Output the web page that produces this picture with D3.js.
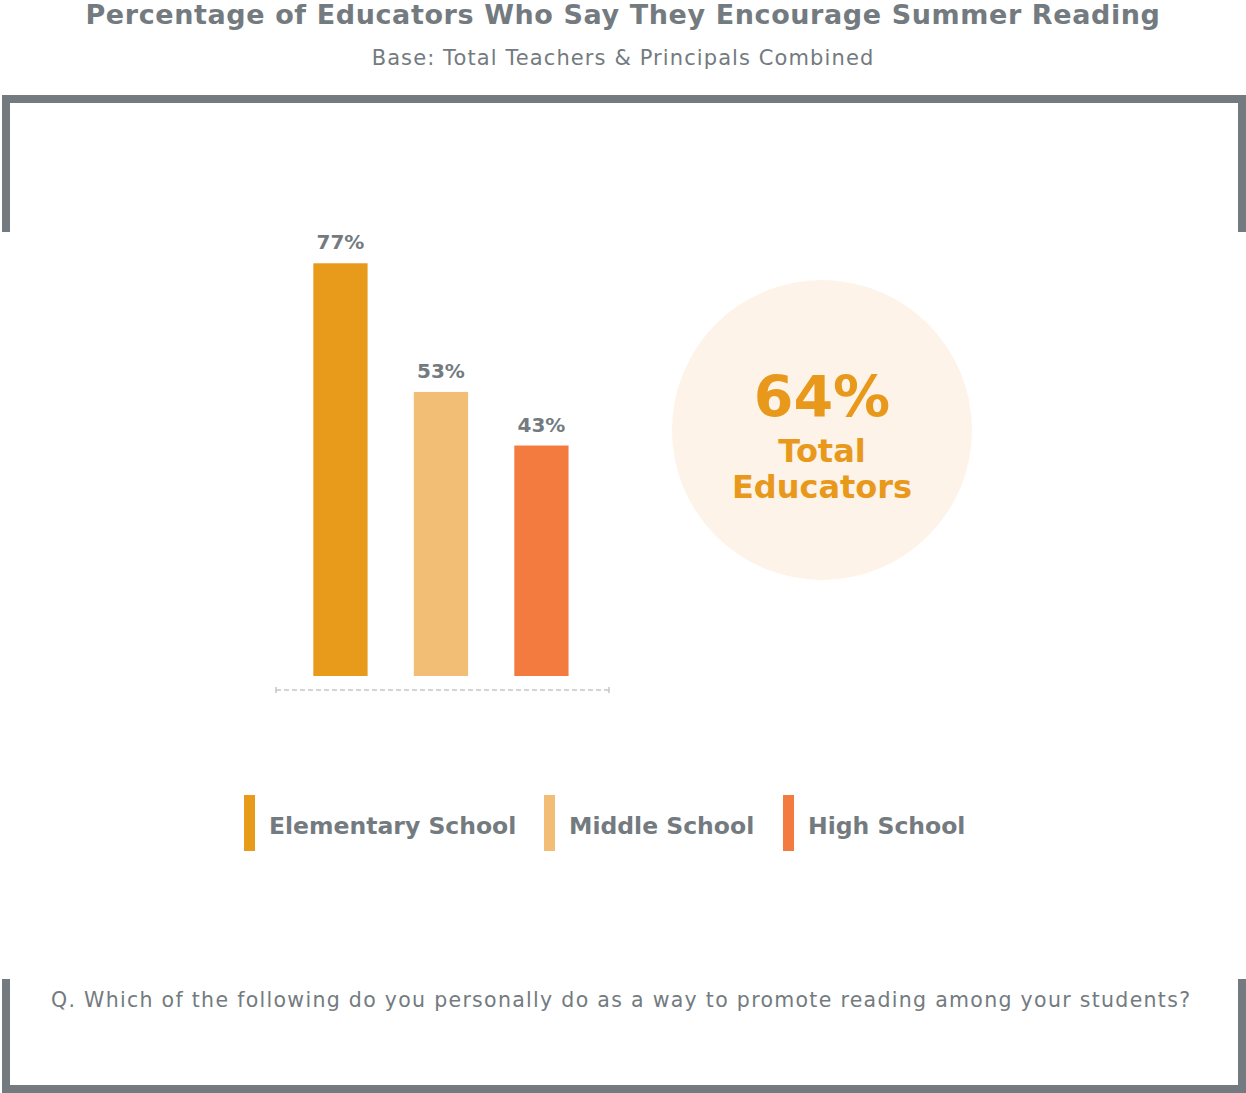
<!DOCTYPE html>
<html>
<head>
<meta charset="utf-8">
<script src="https://cdn.jsdelivr.net/npm/d3@7"></script>
<style>
  body { margin: 0; background: #fff; }
  svg { display: block; font-family: "DejaVu Sans", sans-serif; }
</style>
</head>
<body>
<svg></svg>
<script>
const width = 1246;
const height = 1093;

const categories = ['Elementary School', 'Middle School', 'High School'];
const values = [77, 53, 43];
const totalValue = 64;
const titleText = 'Percentage of Educators Who Say They Encourage Summer Reading';
const subtitleText = 'Base: Total Teachers & Principals Combined';
const questionText = 'Q. Which of the following do you personally do as a way to promote reading among your students?';

const gray = '#737b80';

const svg = d3.select('svg')
	.attr('width', width)
	.attr('height', height);

const colorScale = d3.scaleOrdinal()
	.domain(categories)
	.range(['#e89a1a', '#f2be75', '#f47b40']);

const x = d3.scaleBand()
	.domain(categories)
	.range([276, 609])
	.paddingInner(0.46)
	.paddingOuter(0.387)
	.align(0.48);

const y = d3.scaleLinear()
	.domain([0, 100])
	.range([676, 140]);

// title
svg.append('text')
	.attr('x', 623)
	.attr('y', 24)
	.attr('text-anchor', 'middle')
	.attr('font-size', 27)
	.attr('font-weight', 700)
	.attr('letter-spacing', 0.6)
	.attr('fill', gray)
	.text(titleText);

svg.append('text')
	.attr('x', 623)
	.attr('y', 65)
	.attr('text-anchor', 'middle')
	.attr('font-size', 21)
	.attr('letter-spacing', 1.1)
	.attr('fill', gray)
	.text(subtitleText);

// frame brackets
const frame = svg.append('g')
	.attr('fill', 'none')
	.attr('stroke', gray)
	.attr('stroke-width', 8);

frame.append('path').attr('d', 'M6,232V99H1242V232');
frame.append('path').attr('d', 'M6,979V1089H1242V979');

// bars
const data = categories.map((c, i) => ({ category: c, value: values[i] }));

svg.selectAll('rect.bar')
	.data(data)
	.enter().append('rect')
		.attr('class', 'bar')
		.attr('x', d => x(d.category))
		.attr('y', d => y(d.value))
		.attr('width', x.bandwidth())
		.attr('height', d => y(0) - y(d.value))
		.attr('fill', d => colorScale(d.category));

svg.selectAll('text.value')
	.data(data)
	.enter().append('text')
		.attr('class', 'value')
		.attr('x', d => x(d.category) + x.bandwidth() / 2)
		.attr('y', d => y(d.value) - 14)
		.attr('text-anchor', 'middle')
		.attr('font-size', 20)
		.attr('font-weight', 700)
		.attr('fill', gray)
		.text(d => d.value + '%');

// dashed baseline
const axis = svg.append('g')
	.attr('stroke', '#c6c6c6')
	.attr('stroke-width', 1.5);

axis.append('line')
	.attr('x1', x.range()[0])
	.attr('x2', x.range()[1])
	.attr('y1', 690)
	.attr('y2', 690)
	.attr('stroke-dasharray', '5,3');

axis.selectAll('line.end')
	.data(x.range())
	.enter().append('line')
		.attr('class', 'end')
		.attr('x1', d => d)
		.attr('x2', d => d)
		.attr('y1', 687)
		.attr('y2', 693);

// total circle
const circle = svg.append('g')
	.attr('transform', 'translate(822,430)');

circle.append('circle')
	.attr('r', 150)
	.attr('fill', '#fdf3e8');

circle.append('text')
	.attr('y', -13)
	.attr('text-anchor', 'middle')
	.attr('font-size', 57)
	.attr('font-weight', 700)
	.attr('fill', '#e8991c')
	.text(totalValue + '%');

circle.selectAll('text.lbl')
	.data(['Total', 'Educators'])
	.enter().append('text')
		.attr('class', 'lbl')
		.attr('y', (d, i) => 32 + i * 36)
		.attr('text-anchor', 'middle')
		.attr('font-size', 32)
		.attr('font-weight', 700)
		.attr('fill', '#e8991c')
		.text(d => d);

// legend
const legendX = [244, 544, 783];

const legend = svg.selectAll('g.legend')
	.data(categories)
	.enter().append('g')
		.attr('class', 'legend')
		.attr('transform', (d, i) => `translate(${legendX[i]},795)`);

legend.append('rect')
	.attr('width', 11)
	.attr('height', 56)
	.attr('fill', d => colorScale(d));

legend.append('text')
	.attr('x', 25)
	.attr('y', 39)
	.attr('font-size', 23.5)
	.attr('font-weight', 700)
	.attr('fill', gray)
	.text(d => d);

// question
svg.append('text')
	.attr('x', 51)
	.attr('y', 1007)
	.attr('font-size', 20.5)
	.attr('letter-spacing', 1.3)
	.attr('fill', gray)
	.text(questionText);
</script>
</body>
</html>
